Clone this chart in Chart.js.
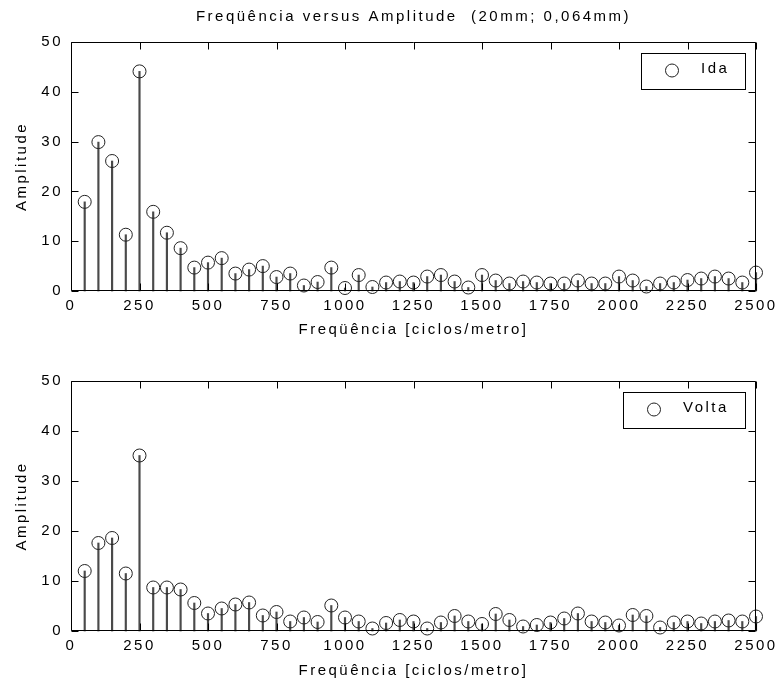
<!DOCTYPE html>
<html><head><meta charset="utf-8">
<script src="https://cdn.jsdelivr.net/npm/chart.js@4/dist/chart.umd.min.js"></script>
<style>
html,body{margin:0;padding:0;background:#fff;}
#wrap{position:relative;width:776px;height:687px;background:#fff;}
canvas{position:absolute;left:0;}
#c1{top:0}
#c2{top:345px}
</style></head><body>
<div id="wrap">
<canvas id="c1" width="776" height="345"></canvas>
<canvas id="c2" width="776" height="342"></canvas>
</div>
<script>
const chartTitle = 'Freqüência versus Amplitude  (20mm; 0,064mm)';
const xAxisTitle = 'Freqüência [ciclos/metro]';
const yAxisTitle = 'Amplitude';
const seriesNames = ['Ida', 'Volta'];

const frequencies = [50,100,150,200,250,300,350,400,450,500,
  550,600,650,700,750,800,850,900,950,1000,
  1050,1100,1150,1200,1250,1300,1350,1400,1450,1500,
  1550,1600,1650,1700,1750,1800,1850,1900,1950,2000,
  2050,2100,2150,2200,2250,2300,2350,2400,2450,2500];

const idaAmplitudes = [17.9,29.9,26.1,11.3,44.1,15.9,11.7,8.6,4.7,5.7,
  6.6,3.5,4.3,5.0,2.8,3.5,1.1,1.8,4.7,0.6,
  3.2,0.8,1.7,1.9,1.7,2.9,3.2,1.9,0.7,3.2,
  2.1,1.5,1.9,1.7,1.5,1.5,2.1,1.5,1.5,2.9,
  2.1,0.9,1.5,1.7,2.2,2.5,2.9,2.5,1.7,3.7];

const voltaAmplitudes = [12.0,17.6,18.6,11.5,35.1,8.7,8.7,8.3,5.6,3.5,
  4.5,5.3,5.7,3.1,3.8,1.9,2.7,1.8,5.1,2.7,
  1.9,0.5,1.6,2.2,1.9,0.5,1.7,3.0,1.9,1.4,
  3.4,2.2,0.9,1.2,1.7,2.5,3.5,1.9,1.7,1.1,
  3.2,3.0,0.7,1.7,1.9,1.5,1.9,2.1,1.9,2.9];

const xTickValues = [0,250,500,750,1000,1250,1500,1750,2000,2250,2500];
const yTickValues = [0,10,20,30,40,50];

const FONT = "'Liberation Sans', Arial, sans-serif";
const LS = '2.5px';
Chart.defaults.font.family = FONT;
Chart.defaults.font.size = 15;
Chart.defaults.color = '#000';

const spacingPlugin = {
  id: 'spacing',
  beforeUpdate(chart){ chart.ctx.letterSpacing = LS; },
  beforeLayout(chart){ chart.ctx.letterSpacing = LS; },
  beforeDraw(chart){ chart.ctx.letterSpacing = LS; }
};

const framePlugin = {
  id: 'frame',
  afterDatasetsDraw(chart){
    const {ctx, chartArea:a, scales:{x, y}} = chart;
    ctx.save();
    ctx.strokeStyle = '#000';
    ctx.lineWidth = 1;
    const L = Math.round(a.left)+0.5, R = Math.round(a.right)-0.5;
    const T = Math.round(a.top)+0.5, B = Math.round(a.bottom)-0.5;
    ctx.beginPath();
    ctx.rect(L, T, R-L, B-T);
    const tl = 7;
    xTickValues.forEach(v => {
      const px = Math.round(x.getPixelForValue(v)) + 0.5;
      ctx.moveTo(px, T); ctx.lineTo(px, T+tl);
      ctx.moveTo(px, B); ctx.lineTo(px, B-tl);
    });
    yTickValues.forEach(v => {
      const py = Math.round(y.getPixelForValue(v)) + 0.5;
      ctx.moveTo(L, py); ctx.lineTo(L+tl, py);
      ctx.moveTo(R, py); ctx.lineTo(R-tl, py);
    });
    ctx.stroke();
    ctx.restore();
  }
};

const legendPlugin = {
  id: 'boxLegend',
  afterDraw(chart, args, opts){
    const {ctx, chartArea:a} = chart;
    ctx.save();
    ctx.letterSpacing = LS;
    ctx.font = '15px ' + FONT;
    const tw = ctx.measureText(opts.text).width;
    const w = Math.round(60 + tw + 16);
    const h = 36;
    const right = Math.round(a.right) - 11;
    const top = Math.round(a.top) + 11;
    const left = right - w;
    ctx.fillStyle = '#fff';
    ctx.fillRect(left, top, w, h);
    ctx.strokeStyle = '#000';
    ctx.lineWidth = 1;
    ctx.strokeRect(left+0.5, top+0.5, w, h);
    ctx.beginPath();
    ctx.arc(left+31, top+17.5, 6.5, 0, Math.PI*2);
    ctx.strokeStyle = '#222';
    ctx.stroke();
    ctx.fillStyle = '#000';
    ctx.textAlign = 'left';
    ctx.textBaseline = 'middle';
    ctx.fillText(opts.text, left+60, top+15.5);
    ctx.restore();
  }
};

const titlePlugin = {
  id: 'topTitle',
  afterDraw(chart, args, opts){
    if (!opts.text) return;
    const {ctx, chartArea:a} = chart;
    ctx.save();
    ctx.letterSpacing = LS;
    ctx.font = '15px ' + FONT;
    ctx.fillStyle = '#000';
    ctx.textAlign = 'center';
    ctx.textBaseline = 'middle';
    ctx.fillText(opts.text, (a.left+a.right)/2, 17);
    ctx.restore();
  }
};

function makeChart(id, values, name, g){
  const pts = frequencies.map((f,i) => ({x:f, y:values[i]}));
  return new Chart(document.getElementById(id), {
    type: 'scatter',
    data: { datasets: [
      { type:'scatter', label:name, data:pts, pointStyle:'circle', pointRadius:6.5,
        pointHoverRadius:6.5, borderColor:'#222', borderWidth:1,
        backgroundColor:'rgba(0,0,0,0)', clip:false, order:0 },
      { type:'bar', label:name+' stem', data:pts, backgroundColor:'#4a4a4a', borderWidth:0,
        barThickness:1.5, grouped:false, clip:false, order:1 }
    ]},
    options: {
      responsive:false, animation:false, devicePixelRatio:1,
      events: [],
      layout:{padding:{top:g.top, right:20, bottom:0, left:0}},
      plugins:{
        legend:{display:false}, tooltip:{enabled:false},
        boxLegend:{text:name},
        topTitle:{text:g.title || ''}
      },
      scales:{
        x:{
          type:'linear', min:0, max:2500, offset:false,
          grid:{display:false, drawTicks:false}, border:{display:false},
          afterBuildTicks: s => { s.ticks = xTickValues.map(v => ({value:v})); },
          ticks:{padding:6, maxRotation:0, autoSkip:false, callback: v => String(v)},
          title:{display:true, text:xAxisTitle, padding:{top:0, bottom:g.xpb}},
          afterFit: s => { s.height = g.xh; s.paddingLeft = 0; s.paddingRight = 0; }
        },
        y:{
          type:'linear', min:0, max:50,
          grid:{display:false, drawTicks:false}, border:{display:false},
          afterBuildTicks: s => { s.ticks = yTickValues.map(v => ({value:v})); },
          ticks:{padding:8, callback: v => String(v)},
          title:{display:true, text:yAxisTitle, padding:{top:13, bottom:0}},
          afterFit: s => { s.width = 71; s.paddingTop = 0; s.paddingBottom = 0; }
        }
      }
    },
    plugins:[spacingPlugin, framePlugin, legendPlugin, titlePlugin]
  });
}

makeChart('c1', idaAmplitudes, seriesNames[0], {top:42, xh:54, xpb:6, title:chartTitle});
makeChart('c2', voltaAmplitudes, seriesNames[1], {top:36, xh:56, xpb:7});
</script>
</body></html>
